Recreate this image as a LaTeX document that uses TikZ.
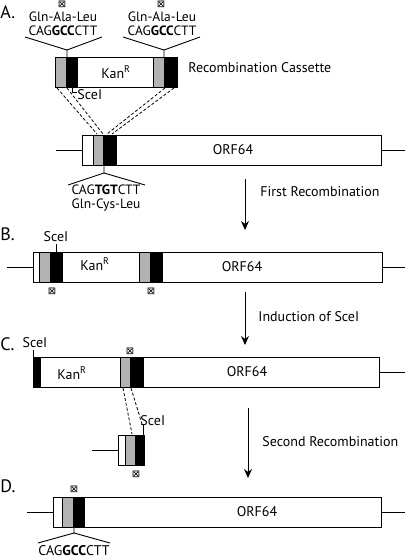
\documentclass[tikz,border=0pt]{standalone}
\usepackage{fontspec}
\setmainfont{PT Sans}
\newfontfamily\symfont{DejaVu Sans}
\usetikzlibrary{arrows.meta}
\begin{document}
\begin{tikzpicture}[x=1pt,y=-1pt, line width=0.9pt,
  lbl/.style={font=\fontsize{14}{15}\selectfont, inner sep=0pt},
  stack/.style={font=\fontsize{13.5}{13.5}\selectfont, inner sep=0pt, align=center},
  panel/.style={font=\fontsize{18}{20}\selectfont, inner sep=0pt, anchor=west},
  mut/.style={font=\symfont\fontsize{10}{10}\selectfont, inner sep=0pt},
  gseg/.style={fill=black!30, draw=black},
  bseg/.style={fill=black, draw=black},
  outl/.style={draw=black, fill=white},
  dsh/.style={densely dashed, line width=0.8pt},
  arr/.style={-{Stealth[length=9pt,width=8pt]}, line width=0.9pt}]
\useasboundingbox[fill=white] (0,0) rectangle (408,560);

% ---------------- Panel A ----------------
\node[panel] (lA) at (0,12) {A.};
% cassette
\draw[outl] (55,57) rectangle (177,87);
\draw[gseg] (55,57) rectangle (66,87);
\draw[bseg] (66,57) rectangle (77,87);
\draw[gseg] (153,57) rectangle (164,87);
\draw[bseg] (164,57) rectangle (177,87);
\node[lbl] (kanA) at (116,72) {Kan\textsuperscript{R}};
\node[lbl, anchor=west] (rc) at (188,68) {Recombination Cassette};
% left stem and texts
\node[mut] (mA1) at (62,4) {⊠};
\node[stack] (tA1) at (63,24) {Gln-Ala-Leu\\CAG\textbf{GCC}CTT};
\coordinate (sA1) at (67,57);
\coordinate (jA1) at (67,50);
\draw (sA1) -- (jA1) -- (25,37);
\draw (jA1) -- (102,37);
% right stem and texts
\node[mut] (mA2) at (161,4) {⊠};
\node[stack] (tA2) at (162,24) {Gln-Ala-Leu\\CAG\textbf{GCC}CTT};
\coordinate (sA2) at (164,57);
\coordinate (jA2) at (164,50);
\draw (sA2) -- (jA2) -- (123,37);
\draw (jA2) -- (200,37);
% SceI mark
\draw (72,87) -- (72,92) -- (77,92);
\node[lbl, anchor=west] (sceA) at (77,95) {SceI};
% target
\draw (56,150) -- (82,150);
\draw (381,150) -- (405,150);
\draw[outl] (82,135) rectangle (381,165);
\draw[gseg] (93,135) rectangle (103,165);
\draw[bseg] (103,135) rectangle (116,165);
\node[lbl] (orfA) at (233,150) {ORF64};
% dashed crossover lines
\draw[dsh] (57,88) -- (97,134);
\draw[dsh] (67,88) -- (103,134);
\draw[dsh] (165,88) -- (107,134);
\draw[dsh] (174,88) -- (112,134);
% bottom stem
\coordinate (sA3) at (104,165);
\coordinate (jA3) at (104,173);
\draw (sA3) -- (jA3) -- (68,185);
\draw (jA3) -- (145,185);
\node[stack] (tA3) at (106,198) {CAG\textbf{TGT}CTT\\Gln-Cys-Leu};
% arrow 1
\coordinate (a1s) at (245,179);
\coordinate (a1e) at (245,230);
\draw[arr] (a1s) -- (a1e);
\node[lbl, anchor=west] (t1) at (260,192) {First Recombination};

% ---------------- Panel B ----------------
\node[panel] (lB) at (0,234) {B.};
\draw (7,267) -- (33,267);
\draw (382,267) -- (405,267);
\draw[outl] (33,252) rectangle (382,282);
\draw[gseg] (39,252) rectangle (50,282);
\draw[bseg] (50,252) rectangle (62,282);
\draw[gseg] (139,252) rectangle (150,282);
\draw[bseg] (150,252) rectangle (162,282);
\node[lbl] (kanB) at (95,264) {Kan\textsuperscript{R}};
\node[lbl] (orfB) at (242,267) {ORF64};
\node[lbl] (sceB) at (56,237) {SceI};
\draw (56,244) -- (56,252);
\node[mut] (mB1) at (52,291) {⊠};
\node[mut] (mB2) at (151,291) {⊠};
% arrow 2
\coordinate (a2s) at (245,292);
\coordinate (a2e) at (245,345);
\draw[arr] (a2s) -- (a2e);
\node[lbl, anchor=west] (t2) at (258,317) {Induction of SceI};

% ---------------- Panel C ----------------
\node[panel] (lC) at (0,344) {C.};
\node[lbl] (sceC) at (35,343) {SceI};
\draw (33,350) -- (33,357);
\draw (379,372) -- (405,372);
\draw[outl] (33,357) rectangle (379,387);
\draw[bseg] (33,357) rectangle (40,387);
\draw[gseg] (120,357) rectangle (130,387);
\draw[bseg] (130,357) rectangle (143,387);
\node[lbl] (kanC) at (72,373) {Kan\textsuperscript{R}};
\node[lbl] (orfC) at (247,372) {ORF64};
\node[mut] (mC1) at (130,351) {⊠};
% excised fragment
\draw[dsh] (123,388) -- (132,434);
\draw[dsh] (131,388) -- (142,424);
\draw (92,450) -- (118,450);
\draw[outl] (118,435) rectangle (144,465);
\draw[gseg] (125,435) rectangle (135,465);
\draw[bseg] (135,435) rectangle (144,465);
\draw (143,425) -- (143,435);
\node[lbl, anchor=west] (sceC2) at (140,421) {SceI};
\node[mut] (mC2) at (136,474) {⊠};
% arrow 3
\coordinate (a3s) at (248,408);
\coordinate (a3e) at (248,478);
\draw[arr] (a3s) -- (a3e);
\node[lbl, anchor=west] (t3) at (262,442) {Second Recombination};

% ---------------- Panel D ----------------
\node[panel] (lD) at (0,486) {D.};
\draw (27,512) -- (53,512);
\draw (381,512) -- (405,512);
\draw[outl] (53,497) rectangle (381,527);
\draw[gseg] (62,497) rectangle (73,527);
\draw[bseg] (73,497) rectangle (84,527);
\node[lbl] (orfD) at (257,512) {ORF64};
\node[mut] (mD1) at (74,489) {⊠};
\coordinate (sD) at (74,527);
\coordinate (jD) at (74,533);
\draw (sD) -- (jD) -- (38,543);
\draw (jD) -- (110,543);
\node[lbl] (cD) at (74,551) {CAG\textbf{GCC}CTT};
\end{tikzpicture}
\end{document}
